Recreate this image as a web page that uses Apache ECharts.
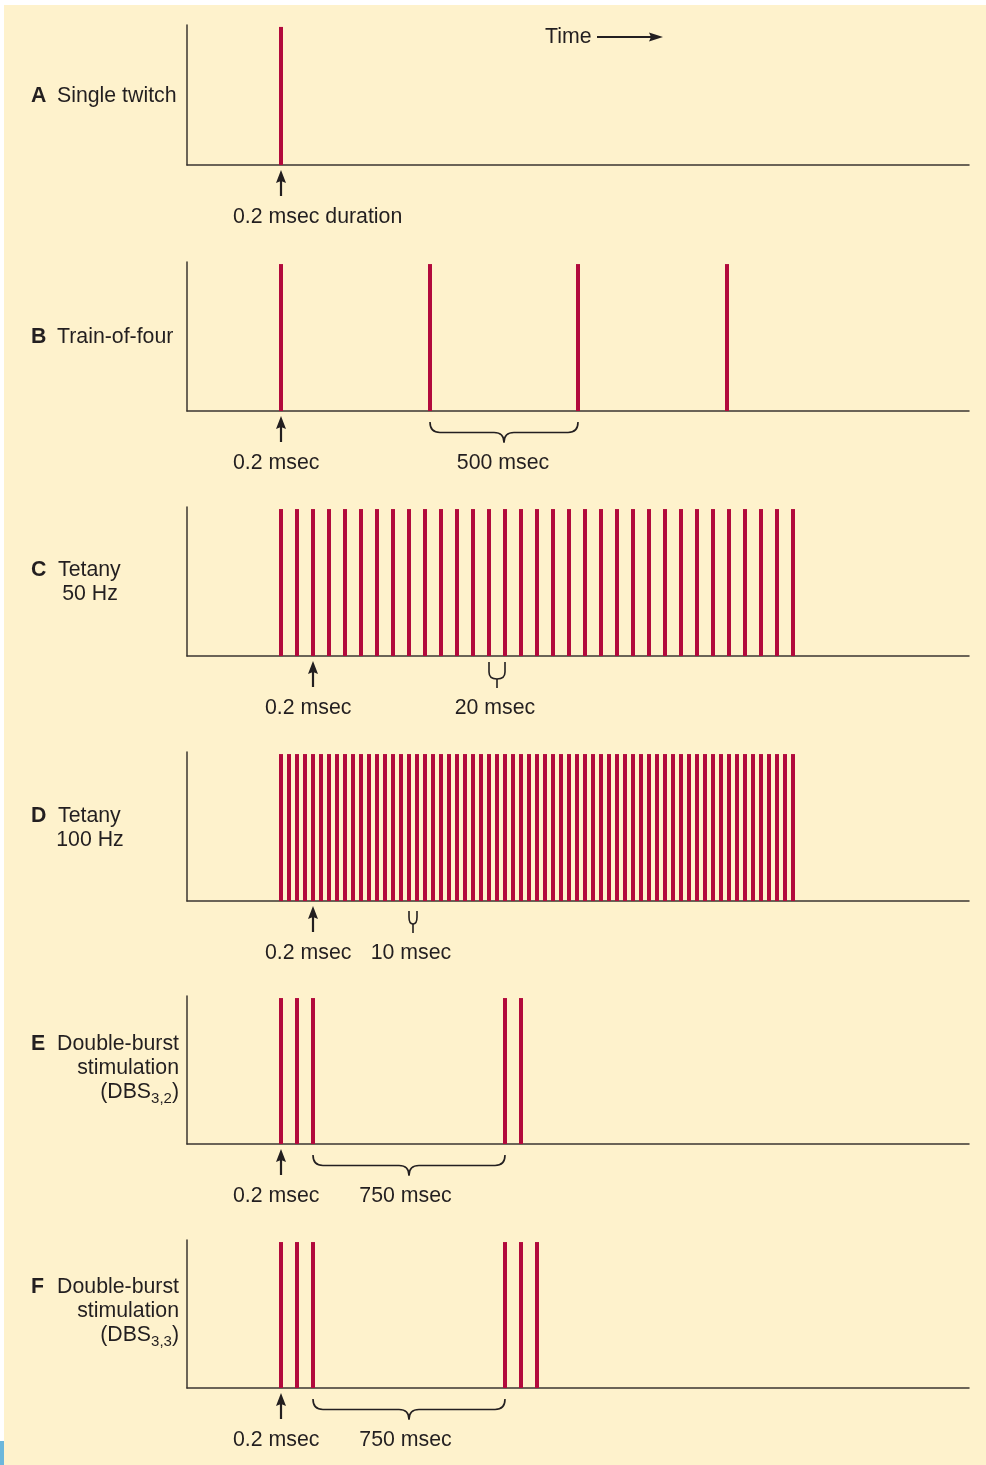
<!DOCTYPE html>
<html>
<head>
<meta charset="utf-8">
<script src="https://cdn.jsdelivr.net/npm/echarts@6/dist/echarts.min.js"></script>
<style>
html,body{margin:0;padding:0;background:#ffffff;}
#chart{width:986px;height:1465px;}
</style>
</head>
<body>
<div id="chart"></div>
<script>
// ---- Data (time in arbitrary display units; first pulse at 0) ----
const pulsesA = [0];
const pulsesB = [0, 18.625, 37.125, 55.75];
const pulsesC = [0, 2, 4, 6, 8, 10, 12, 14, 16, 18, 20, 22, 24, 26, 28, 30, 32, 34, 36, 38, 40, 42, 44, 46, 48, 50, 52, 54, 56, 58, 60, 62, 64];
const pulsesD = [0, 1, 2, 3, 4, 5, 6, 7, 8, 9, 10, 11, 12, 13, 14, 15, 16, 17, 18, 19, 20, 21, 22, 23, 24, 25, 26, 27, 28, 29, 30, 31, 32, 33, 34, 35, 36, 37, 38, 39, 40, 41, 42, 43, 44, 45, 46, 47, 48, 49, 50, 51, 52, 53, 54, 55, 56, 57, 58, 59, 60, 61, 62, 63, 64];
const pulsesE = [0, 2, 4, 28, 30];
const pulsesF = [0, 2, 4, 28, 30, 32];
const pulseAmplitude = 1;
const panelPulses = [pulsesA, pulsesB, pulsesC, pulsesD, pulsesE, pulsesF];

const panelLetters = ['A', 'B', 'C', 'D', 'E', 'F'];
const panelTitles = [
  ['Single twitch'],
  ['Train-of-four'],
  ['Tetany', '50 Hz'],
  ['Tetany', '100 Hz'],
  ['Double-burst', 'stimulation', '(DBS{s|3,2})'],
  ['Double-burst', 'stimulation', '(DBS{s|3,3})']
];
// annotation anchors (time units)
const arrowTimes = [0, 0, 4, 4, 0, 0];
const arrowLabels = ['0.2 msec duration', '0.2 msec', '0.2 msec', '0.2 msec', '0.2 msec', '0.2 msec'];
const braces = [
  {panel: 1, from: 18.625, to: 37.125, label: '500 msec', kind: 'brace'},
  {panel: 2, from: 26, to: 28, label: '20 msec', kind: 'u'},
  {panel: 3, from: 16, to: 17, label: '10 msec', kind: 'u'},
  {panel: 4, from: 4, to: 28, label: '750 msec', kind: 'brace'},
  {panel: 5, from: 4, to: 28, label: '750 msec', kind: 'brace'}
];
const timeLabel = 'Time';

// ---- Layout ----
const FONT = "'Liberation Sans', Arial, Helvetica, sans-serif";
const FS = 21.3;
const TXT = '#231f20';
const AX = '#3b3631';
const BAR = '#b20a3c';
const gridTops = [25, 262, 507, 752, 996, 1240];
const gridHeights = [140, 149, 149, 149, 148, 148];
const xMin = -11.75, xMax = 86;

const grids = [], xAxes = [], yAxes = [], series = [];
for (let i = 0; i < 6; i++) {
  grids.push({left: 187, width: 782, top: gridTops[i], height: gridHeights[i]});
  xAxes.push({type: 'value', gridIndex: i, min: xMin, max: xMax,
    axisLine: {show: true, onZero: false, lineStyle: {color: AX, width: 1.5}},
    axisTick: {show: false}, axisLabel: {show: false}, splitLine: {show: false}});
  yAxes.push({type: 'value', gridIndex: i, min: 0, max: 1.014,
    axisLine: {show: true, onZero: false, lineStyle: {color: AX, width: 1.5}},
    axisTick: {show: false}, axisLabel: {show: false}, splitLine: {show: false}});
  series.push({type: 'bar', xAxisIndex: i, yAxisIndex: i, barWidth: 4,
    itemStyle: {color: BAR}, silent: true,
    data: panelPulses[i].map(t => [t, pulseAmplitude])});
}

const chart = echarts.init(document.getElementById('chart'), null, {renderer: 'canvas'});
chart.setOption({
  animation: false,
  backgroundColor: '#ffffff',
  grid: grids, xAxis: xAxes, yAxis: yAxes, series: series
});

// ---- Annotations ----
const g = [];
g.push({type: 'rect', z: -10, shape: {x: 4, y: 5, width: 982, height: 1460}, style: {fill: '#fef2cc'}});
g.push({type: 'rect', z: -9, shape: {x: 0, y: 1441, width: 4, height: 24}, style: {fill: '#6cb7db'}});

function txt(x, y, text, opts) {
  opts = opts || {};
  g.push({type: 'text', z: 10, x: x, y: y + 1, style: Object.assign({
    text: text, fill: TXT, font: (opts.bold ? 'bold ' : '') + FS + 'px ' + FONT,
    textAlign: opts.align || 'left', textVerticalAlign: 'middle',
    rich: {s: {fontSize: 15, fontFamily: FONT, fill: TXT, verticalAlign: 'bottom', lineHeight: 15}, n: {}}
  }, opts.extra || {})});
}
function line(x1, y1, x2, y2, w) {
  g.push({type: 'line', z: 10, shape: {x1: x1, y1: y1, x2: x2, y2: y2}, style: {stroke: TXT, lineWidth: w || 1.6}});
}
function curve(x1, y1, cx, cy, x2, y2) {
  g.push({type: 'bezierCurve', z: 10, shape: {x1: x1, y1: y1, cpx1: cx, cpy1: cy, x2: x2, y2: y2}, style: {stroke: TXT, lineWidth: 1.6, fill: null}});
}
function upArrow(x, yTip, yEnd) {
  line(x, yTip + 8, x, yEnd, 2.2);
  g.push({type: 'polygon', z: 10, shape: {points: [[x, yTip], [x - 5, yTip + 13], [x, yTip + 11], [x + 5, yTip + 13]]}, style: {fill: TXT}});
}

// Time arrow
txt(545, 36, timeLabel);
line(597, 37, 652, 37, 2.2);
g.push({type: 'polygon', z: 10, shape: {points: [[663, 37], [649, 32.5], [651, 37], [649, 41.5]]}, style: {fill: TXT}});

// Panel titles
const letterY = [95, 336, 569, 815, 1043, 1286];
for (let i = 0; i < 6; i++) {
  txt(31, letterY[i], panelLetters[i], {bold: true});
  const t = panelTitles[i];
  if (t.length === 1) {
    txt(57, letterY[i], t[0]);
  } else if (t.length === 2) {
    txt(58, letterY[i], t[0]);
    txt(90, letterY[i] + 24, t[1], {align: 'center'});
  } else {
    txt(179, letterY[i], t[0], {align: 'right'});
    txt(179, letterY[i] + 24, t[1], {align: 'right'});
    txt(179, letterY[i] + 48, t[2], {align: 'right', extra: {lineHeight: 28}});
  }
}

// Arrows with labels
for (let i = 0; i < 6; i++) {
  const base = gridTops[i] + gridHeights[i];
  const px = chart.convertToPixel({xAxisIndex: i}, arrowTimes[i]);
  upArrow(px, base + 5, base + 31);
  const labelY = base + 51;
  if (i === 0) txt(233, labelY, arrowLabels[i]);
  else txt(px - 48, labelY, arrowLabels[i]);
}

// Braces
braces.forEach(b => {
  const base = gridTops[b.panel] + gridHeights[b.panel];
  const x0 = chart.convertToPixel({xAxisIndex: b.panel}, b.from);
  const x1 = chart.convertToPixel({xAxisIndex: b.panel}, b.to);
  const xc = (x0 + x1) / 2;
  if (b.kind === 'brace') {
    const top = base + 11, mid = base + 21.5, tip = base + 31.5, r = 10;
    curve(x0, top, x0, mid, x0 + r, mid);
    line(x0 + r, mid, xc - r, mid);
    curve(xc - r, mid, xc, mid, xc, tip);
    curve(xc + r, mid, xc, mid, xc, tip);
    line(xc + r, mid, x1 - r, mid);
    curve(x1 - r, mid, x1, mid, x1, top);
    txt(b.panel === 1 ? xc - 1 : xc - 3.5, base + 51, b.label, {align: 'center'});
  } else {
    const top = b.panel === 2 ? base + 6 : base + 10;
    const bot = base + 23, bend = base + 16;
    line(x0, top, x0, bend);
    line(x1, top, x1, bend);
    curve(x0, bend, x0, bot, xc, bot);
    curve(x1, bend, x1, bot, xc, bot);
    line(xc, bot, xc, base + 32);
    txt(xc - 2, base + 51, b.label, {align: 'center'});
  }
});

chart.setOption({graphic: {elements: g}});
</script>
</body>
</html>
